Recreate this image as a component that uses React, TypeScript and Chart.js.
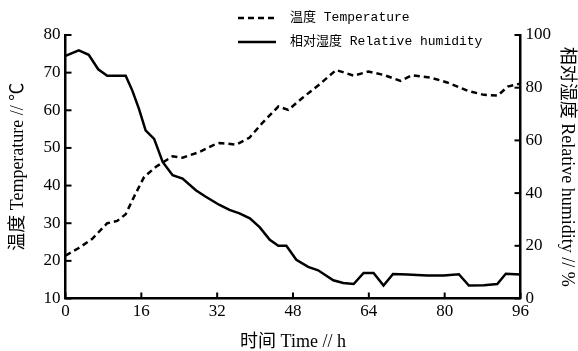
import React, { useEffect, useRef } from "react";
import { Chart, registerables } from "chart.js";

Chart.register(...registerables);

const tempHours = [0, 2.8, 5.6, 8.8, 10.9, 12.7, 14.8, 16.6, 19.1, 22.6, 24.7, 28.2, 31.1, 32.5, 36, 38.8, 41.5, 44.9, 47, 50.1, 53.7, 57.1, 60.8, 63.9, 67.1, 70.7, 73.1, 77, 80.5, 84.8, 88.3, 91.2, 93.3, 96];
const tempValues = [21.4, 23.4, 25.8, 30, 30.6, 32.4, 37.9, 42.3, 45, 47.8, 47.4, 48.9, 50.7, 51.3, 50.9, 52.7, 56.6, 61, 60.1, 63.4, 67, 70.7, 69.2, 70.3, 69.4, 67.8, 69.3, 68.7, 67.4, 65.2, 64.1, 63.9, 66.3, 67.1];

const rhHours = [0, 2.8, 4.9, 6.9, 8.8, 12.7, 14.1, 15.5, 16.9, 18.7, 20.5, 22.6, 24.7, 27.5, 29.6, 32.5, 34.6, 36.7, 38.9, 41, 43.1, 44.9, 46.6, 48.7, 51.2, 53.3, 56.5, 58.6, 60.8, 62.9, 65, 67.1, 69.1, 72.1, 76.3, 79.8, 83, 85.1, 88.3, 91.1, 92.9, 96];
const rhValues = [92.1, 94.2, 92.5, 87, 84.5, 84.5, 78.9, 72, 63.8, 60.6, 51.8, 46.8, 45.5, 41.1, 38.6, 35.5, 33.6, 32.3, 30.4, 27, 22.3, 20, 20, 14.7, 12, 10.7, 6.9, 5.9, 5.5, 9.7, 9.7, 4.9, 9.3, 9.1, 8.7, 8.7, 9.2, 4.9, 5, 5.5, 9.4, 9.1];

const tempLabel = "温度 Temperature";
const rhLabel = "相对湿度 Relative humidity";
const xTitle = "时间 Time // h";
const yTitle = "温度 Temperature // ℃";
const y1Title = "相对湿度 Relative humidity // %";

const serif = '"Liberation Serif", "Noto Sans CJK SC", serif';

const inwardTicks = {
  id: "inwardTicks",
  afterDatasetsDraw(chart: any) {
    const ctx = chart.ctx;
    const { left, right, bottom } = chart.chartArea;
    ctx.save();
    ctx.strokeStyle = "#000";
    ctx.lineWidth = 2;
    const len = 6;
    const xs = chart.scales.x;
    xs.ticks.forEach((t: any) => {
      const p = xs.getPixelForValue(t.value);
      ctx.beginPath();
      ctx.moveTo(p, bottom);
      ctx.lineTo(p, bottom - len);
      ctx.stroke();
    });
    const ys = chart.scales.y;
    ys.ticks.forEach((t: any) => {
      const p = ys.getPixelForValue(t.value);
      ctx.beginPath();
      ctx.moveTo(left, p);
      ctx.lineTo(left + len, p);
      ctx.stroke();
    });
    const y1 = chart.scales.y1;
    y1.ticks.forEach((t: any) => {
      const p = y1.getPixelForValue(t.value);
      ctx.beginPath();
      ctx.moveTo(right, p);
      ctx.lineTo(right - len, p);
      ctx.stroke();
    });
    ctx.restore();
  },
};

const customLegend = {
  id: "customLegend",
  afterDraw(chart: any) {
    const ctx = chart.ctx;
    ctx.save();
    const rows = [18, 42];
    chart.data.datasets.forEach((ds: any, i: number) => {
      const y = rows[i];
      ctx.strokeStyle = ds.borderColor;
      ctx.lineWidth = ds.borderWidth;
      ctx.setLineDash(ds.borderDash || []);
      ctx.beginPath();
      ctx.moveTo(238, y);
      ctx.lineTo(276, y);
      ctx.stroke();
      ctx.setLineDash([]);
      ctx.fillStyle = "#000";
      ctx.font = '13px "Liberation Mono", "Noto Sans CJK SC", monospace';
      ctx.textBaseline = "middle";
      ctx.textAlign = "left";
      ctx.fillText(ds.label, 290, y);
    });
    ctx.restore();
  },
};

export default function App() {
  const ref = useRef<HTMLCanvasElement>(null);
  useEffect(() => {
    document.body.style.margin = "0";
    const canvas = ref.current!;
    const chart = new Chart(canvas, {
      type: "line",
      data: {
        datasets: [
          {
            label: tempLabel,
            data: tempHours.map((h, i) => ({ x: h, y: tempValues[i] })),
            borderColor: "#000",
            borderWidth: 2.5,
            borderDash: [6, 4],
            pointRadius: 0,
            tension: 0,
            yAxisID: "y",
          },
          {
            label: rhLabel,
            data: rhHours.map((h, i) => ({ x: h, y: rhValues[i] })),
            borderColor: "#000",
            borderWidth: 2.5,
            pointRadius: 0,
            tension: 0,
            yAxisID: "y1",
          },
        ],
      },
      options: {
        responsive: false,
        animation: false,
        devicePixelRatio: 1,
        layout: { padding: { top: 35, left: 0, right: 0, bottom: 0 } },
        plugins: { legend: { display: false }, tooltip: { enabled: false } },
        scales: {
          x: {
            type: "linear",
            min: 0,
            max: 96,
            ticks: { stepSize: 16, color: "#000", font: { family: serif, size: 17 }, padding: 3, maxRotation: 0 },
            grid: { display: false, drawTicks: false },
            border: { display: true, color: "#000", width: 2.5 },
            title: { display: true, text: xTitle, color: "#000", font: { family: serif, size: 18, lineHeight: 1 }, padding: { top: 0, bottom: 0 } },
            afterFit: (s: any) => { s.height = 52.5; },
          },
          y: {
            type: "linear",
            position: "left",
            min: 10,
            max: 80,
            ticks: { stepSize: 10, color: "#000", font: { family: serif, size: 17 }, padding: 5 },
            grid: { display: false, drawTicks: false },
            border: { display: true, color: "#000", width: 2.5 },
            title: { display: true, text: yTitle, color: "#000", font: { family: serif, size: 18, lineHeight: 1 }, padding: { top: 9.5, bottom: 0 } },
            afterFit: (s: any) => { s.width = 65.5; },
          },
          y1: {
            type: "linear",
            position: "right",
            min: 0,
            max: 100,
            ticks: { stepSize: 20, color: "#000", font: { family: serif, size: 17 }, padding: 5 },
            grid: { display: false, drawTicks: false },
            border: { display: true, color: "#000", width: 2.5 },
            title: { display: true, text: y1Title, color: "#000", font: { family: serif, size: 18, lineHeight: 1 }, padding: { top: 2, bottom: 0 } },
            afterFit: (s: any) => { s.width = 57.5; },
          },
        },
      },
      plugins: [inwardTicks, customLegend],
    });
    return () => chart.destroy();
  }, []);
  return (
    <div style={{ position: "relative", width: 578, height: 351 }}>
      <canvas ref={ref} width={578} height={351} />
    </div>
  );
}
